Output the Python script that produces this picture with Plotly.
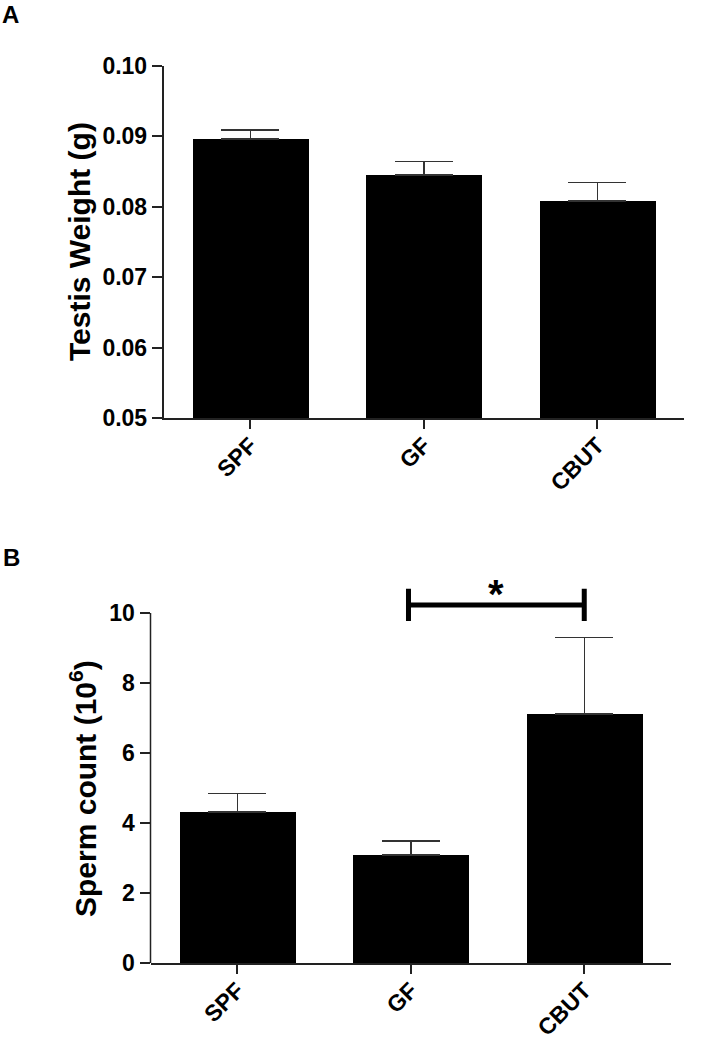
import plotly.graph_objects as go

# ---- data ----
groups = ["SPF", "GF", "CBUT"]
testis_weight = [0.0896, 0.0845, 0.0808]
testis_weight_err = [0.0013, 0.0019, 0.0026]
sperm_count = [4.31, 3.09, 7.12]
sperm_count_err = [0.53, 0.40, 2.18]
weight_ticks = [0.05, 0.06, 0.07, 0.08, 0.09, 0.10]
count_ticks = [0, 2, 4, 6, 8, 10]
sig_pair = ("GF", "CBUT")
sig_level = 10.23
sig_label = "*"

W, H = 720, 1043
FONT = "Liberation Sans, Arial, Helvetica, sans-serif"
LINE = "#222222"

fig = go.Figure()

err_style = dict(type="data", symmetric=False, color="#333333", thickness=1.5, width=29)

fig.add_trace(go.Bar(
    x=groups, y=testis_weight, width=0.67,
    marker=dict(color="black", line=dict(width=0)),
    error_y=dict(array=testis_weight_err, arrayminus=[0] * len(groups), **err_style),
    xaxis="x", yaxis="y", showlegend=False, hoverinfo="skip",
))
fig.add_trace(go.Bar(
    x=groups, y=sperm_count, width=0.67,
    marker=dict(color="black", line=dict(width=0)),
    error_y=dict(array=sperm_count_err, arrayminus=[0] * len(groups), **err_style),
    xaxis="x2", yaxis="y2", showlegend=False, hoverinfo="skip",
))

tickfont = dict(family=FONT, size=23, color="black", weight="bold")

def px_x(v):
    return v / W

def px_y(v):
    return 1 - v / H

xcommon = dict(type="category", range=[-0.5, 2.5], showline=True, linecolor=LINE, linewidth=1.5,
               ticks="outside", ticklen=9, tickwidth=1.5, tickcolor=LINE, tickangle=-45,
               ticklabelstandoff=-6,
               tickfont=tickfont, showgrid=False, zeroline=False, fixedrange=True,
               automargin=False)

fig.update_layout(
    width=W, height=H,
    margin=dict(l=0, r=0, t=0, b=0, autoexpand=False),
    paper_bgcolor="white", plot_bgcolor="white",
    bargap=0,
    xaxis=dict(domain=[px_x(163.5), px_x(684)], anchor="y", **xcommon),
    yaxis=dict(domain=[px_y(418), px_y(65.7)], anchor="x", range=[0.05, 0.10],
               tickvals=weight_ticks, tickformat=".2f", showline=True, linecolor=LINE, linewidth=1.5,
               ticks="outside", ticklen=10, tickwidth=1.5, tickcolor=LINE,
               tickfont=tickfont, showgrid=False, zeroline=False, fixedrange=True,
               automargin=False),
    xaxis2=dict(domain=[px_x(150.5), px_x(671)], anchor="y2", **xcommon),
    yaxis2=dict(domain=[px_y(963), px_y(585)], anchor="x2", range=[0, 10.8],
                tickvals=count_ticks, showline=False,
                ticks="outside", ticklen=10, tickwidth=1.5, tickcolor=LINE,
                tickfont=tickfont, showgrid=False, zeroline=False, fixedrange=True,
                automargin=False),
)

# panel B y-axis line, ending at the top tick
fig.add_shape(type="line", xref="x2 domain", yref="y2", x0=0, x1=0,
              y0=count_ticks[0], y1=count_ticks[-1], line=dict(color=LINE, width=1.5))

# significance bracket
i0, i1 = groups.index(sig_pair[0]), groups.index(sig_pair[1])
x_left, x_right = i0 - 0.013, i1
cap = 0.46
bracket = dict(color="black", width=5)
fig.add_shape(type="line", xref="x2", yref="y2", x0=x_left, x1=x_right,
              y0=sig_level, y1=sig_level, line=bracket)
for xv in (x_left, x_right):
    fig.add_shape(type="line", xref="x2", yref="y2", x0=xv, x1=xv,
                  y0=sig_level - cap, y1=sig_level + cap, line=bracket)
fig.add_annotation(x=(x_left + x_right) / 2, y=sig_level, xref="x2", yref="y2",
                   text=sig_label, showarrow=False, yanchor="bottom", yshift=-13,
                   font=dict(family=FONT, size=40, color="black", weight="bold"))

# axis titles
titlefont = dict(family=FONT, size=30, color="black", weight="bold")
fig.add_annotation(x=px_x(80), y=px_y(242), xref="paper", yref="paper",
                   text="Testis Weight (g)", textangle=-90, showarrow=False,
                   xanchor="center", yanchor="middle", font=titlefont)
fig.add_annotation(x=px_x(83), y=px_y(789), xref="paper", yref="paper",
                   text="Sperm count (10<sup>6</sup>)", textangle=-90, showarrow=False,
                   xanchor="center", yanchor="middle", font=titlefont)

# panel letters
letterfont = dict(family=FONT, size=24, color="black", weight="bold")
fig.add_annotation(x=px_x(1), y=px_y(0), xref="paper", yref="paper", text="A", borderpad=0,
                   showarrow=False, xanchor="left", yanchor="top", font=letterfont)
fig.add_annotation(x=px_x(1), y=px_y(542), xref="paper", yref="paper", text="B",
                   showarrow=False, xanchor="left", yanchor="top", font=letterfont)

fig.write_html(
    "out.html",
    config={"displayModeBar": False},
    post_script="document.body.style.margin='0px'; document.documentElement.style.overflow='hidden';",
)
